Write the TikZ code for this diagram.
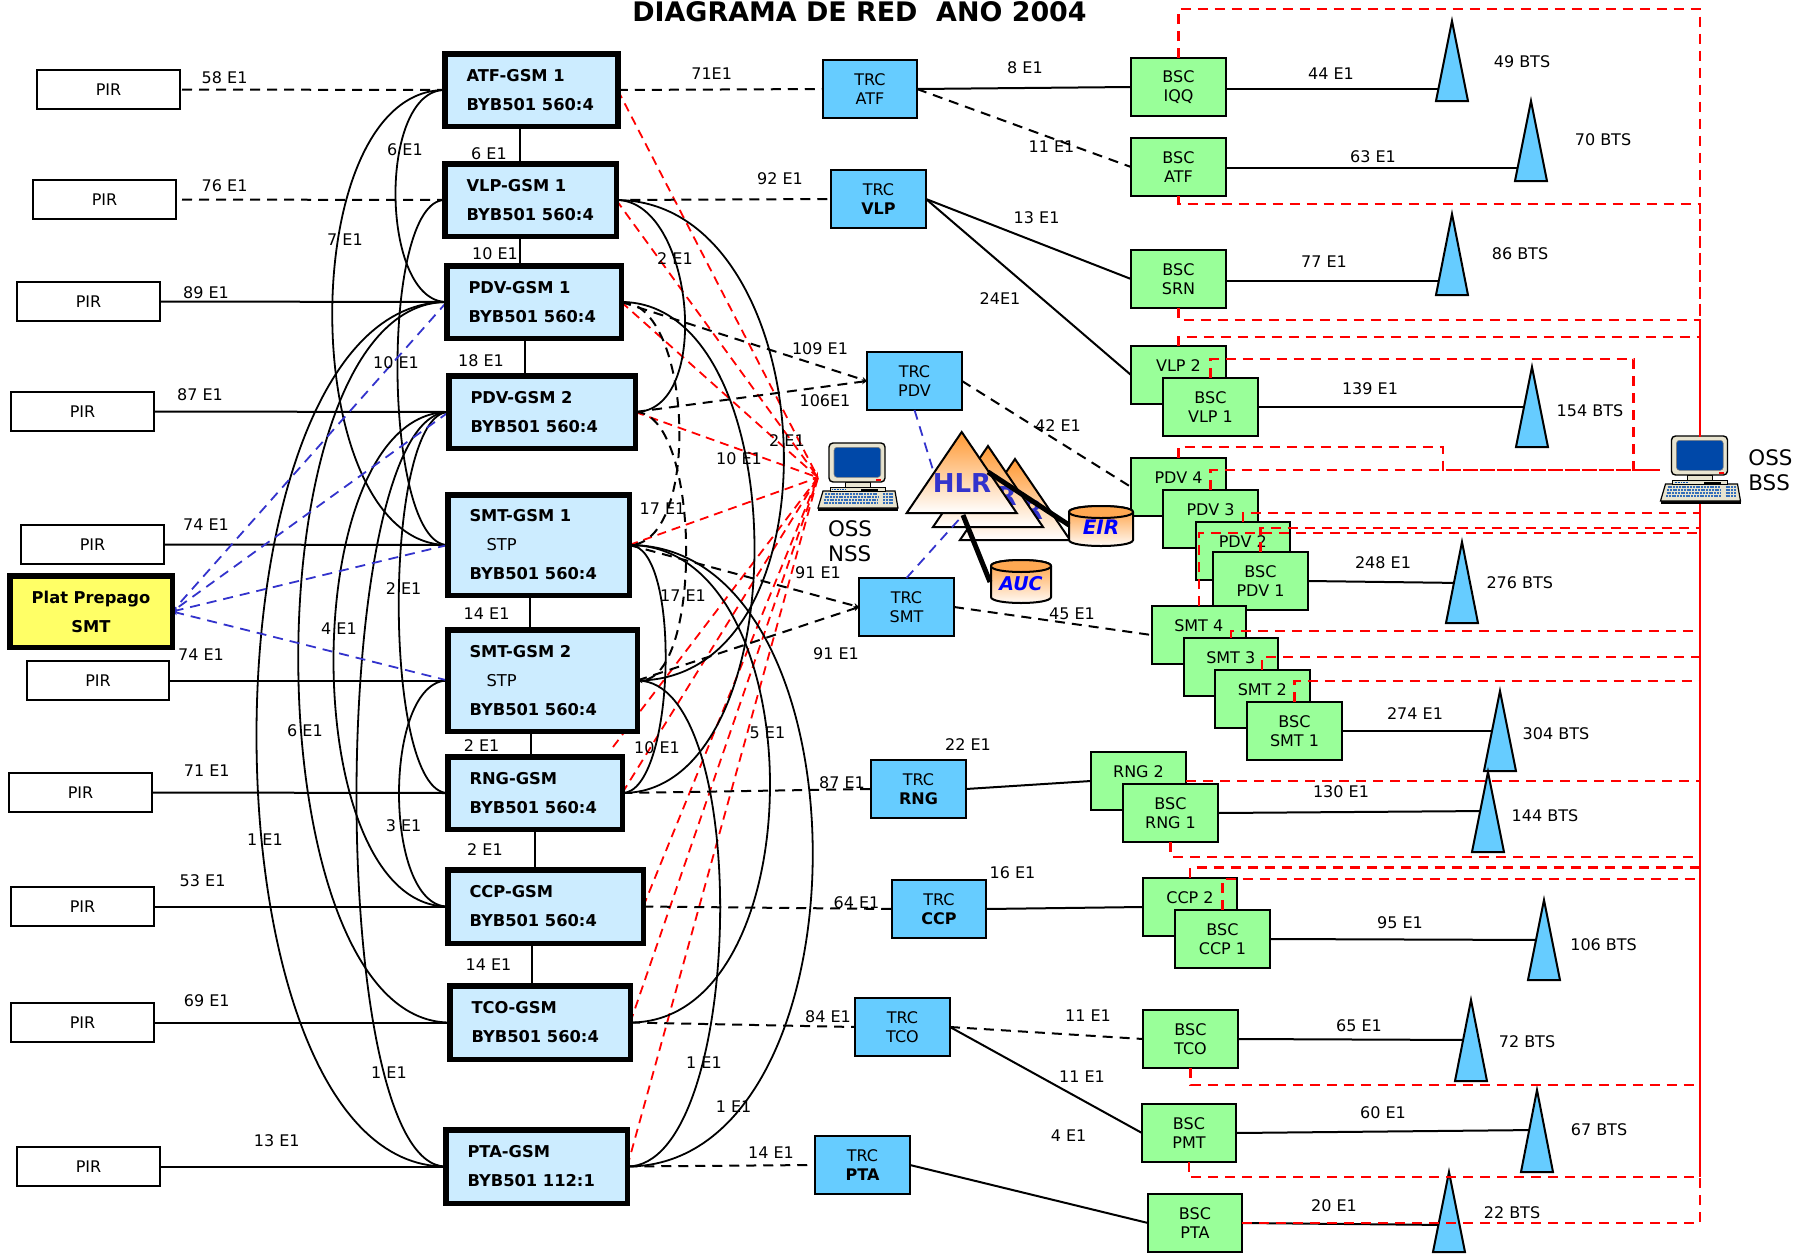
\documentclass[tikz,border=0pt]{standalone}
\usepackage{fontspec}
\setmainfont{DejaVu Sans}
\usetikzlibrary{calc,arrows.meta}
\pgfdeclarelayer{bgl}\pgfdeclarelayer{fgl}\pgfsetlayers{bgl,main,fgl}
\definecolor{gsmfill}{HTML}{CCECFF}
\definecolor{trcfill}{HTML}{66CCFF}
\definecolor{bscfill}{HTML}{99FF99}
\definecolor{platfill}{HTML}{FFFF66}
\definecolor{orangeT}{HTML}{FF9933}
\definecolor{blueD}{HTML}{3333CC}
\definecolor{redD}{HTML}{FF0000}
\definecolor{beige}{HTML}{E8E4D0}
\definecolor{screenb}{HTML}{0048A8}
\newcounter{lblc}
\tikzset{
  basetxt/.style={font=\fontsize{8}{9.8}\selectfont},
  lbl/.style={basetxt,inner sep=0pt,outer sep=0pt},
  pirbox/.style={basetxt,draw=black,line width=1pt,fill=white,inner sep=0pt,outer sep=0pt,align=center},
  trcbox/.style={pirbox,fill=trcfill},
  bscbox/.style={pirbox,fill=bscfill},
  gsmbox/.style={draw=black,line width=2.75pt,fill=gsmfill,inner sep=0pt,outer sep=0pt,align=flush left,font=\bfseries\fontsize{8.15}{14.5}\selectfont},
  platbox/.style={gsmbox,fill=platfill,align=center},
  ln/.style={black,line width=1pt},
  cv/.style={black,line width=.9pt},
  dsh/.style={black,line width=1pt,dash pattern=on 5pt off 3.5pt},
  blued/.style={blueD,line width=.9pt,dash pattern=on 5pt off 3.5pt},
  redn/.style={redD,line width=.9pt,dash pattern=on 4.5pt off 3pt},
  redb/.style={redD,line width=1.1pt,dash pattern=on 5pt off 3.5pt},
  btsfill/.style={draw=black,line width=1pt,fill=trcfill,line join=miter},
  tipS/.style={-{Stealth[length=2.6pt,width=2.6pt]}},
  hlrtxt/.style={font=\bfseries\fontsize{13}{15}\selectfont,text=blueD,inner sep=0pt},
}
\newcommand\bx[7]{\node[#2,minimum width={(#5-#3-2)*0.5pt},minimum height={(#6-#4-2)*0.5pt}] (#1) at ({(#3+#5)/2},{(#4+#6)/2}) {#7};}
\newcommand\gx[6]{\node[gsmbox,minimum width={(#4-#2-5.5)*0.5pt},minimum height={(#5-#3-5.5)*0.5pt},text width={(#4-#2-49)*0.5pt}] (#1) at ({(#2+#4)/2},{(#3+#5)/2}) {#6};}
\newcommand\lb[3]{\stepcounter{lblc}\node[lbl] (lab\arabic{lblc}) at (#1,#2) {#3};}
\newcommand\arcW[3]{\draw[cv] (#1.west) .. controls ($(#1.west)+(-#3,0)$) and ($(#2.west)+(-#3,0)$) .. (#2.west);}
\newcommand\arcE[3]{\draw[cv] (#1.east) .. controls ($(#1.east)+(#3,0)$) and ($(#2.east)+(#3,0)$) .. (#2.east);}
\newcommand\bts[3]{\coordinate (#1) at (#2,#3);}
\newcommand\btsd[3]{\draw[btsfill] (#1,#2) -- (#1+16,#3) -- (#1-16,#3) -- cycle;}
\newcommand\hlrtri[3]{\path[draw=black,line width=1pt,top color=orangeT,middle color=orangeT!22!white,bottom color=white] (#1,#2) -- (#1+55,#3) -- (#1-55,#3) -- cycle;}
\newcommand\cyl[4]{%
  \path[draw=black,line width=1pt,top color=orangeT,middle color=orangeT!25!white,bottom color=white]
    (#1,#2+6) -- (#1,#4-6) .. controls (#1,#4+2) and (#3,#4+2) .. (#3,#4-6) -- (#3,#2+6) .. controls (#3,#2-2) and (#1,#2-2) .. (#1,#2+6) -- cycle;
  \draw[line width=1pt,fill=orangeT!85!white] (#1,#2+6) .. controls (#1,#2-2) and (#3,#2-2) .. (#3,#2+6) .. controls (#3,#2+14) and (#1,#2+14) .. (#1,#2+6) -- cycle;}
\newcommand\compu[2]{%
  \begin{scope}[shift={(#1,#2)}]
    \fill[black] (0,64) -- (80,64) -- (80,68) -- (0,68) -- cycle;
    \draw[line width=.6pt,fill=beige] (5,48) -- (77,48) -- (80,65) -- (0,65) -- cycle;
    \draw[line width=.5pt,fill=beige] (27,39) rectangle (52,44);
    \draw[line width=.5pt,fill=beige] (12,44) rectangle (67,48);
    \draw[line width=.7pt,fill=beige,rounded corners=2pt] (11,0) rectangle (67,39);
    \draw[draw=gray,line width=.3pt,fill=screenb,rounded corners=1.5pt] (16,4.3) rectangle (62.7,34.3);
    \fill[red] (58,36) rectangle (63,38);
    \fill[black] (43,45.5) rectangle (60,48);
    \draw[screenb,line width=.8pt,dash pattern=on .5pt off .3pt] (14,46.5) -- (28,46.5);
    \foreach \yy/\xa in {51/7,54/6.5,57/6,60/5.5}{
      \draw[screenb!80!white,line width=1pt,dash pattern=on 1pt off .4pt] (\xa,\yy) -- (60,\yy);
      \draw[screenb!80!white,line width=1pt,dash pattern=on 1pt off .4pt] (65,\yy) -- (75,\yy);}
  \end{scope}}
\begin{document}
\begin{tikzpicture}[x=0.5pt,y=-0.5pt]
\useasboundingbox (0,0) rectangle (1796,1254);
% PIR boxes
\bx{pa}{pirbox}{36}{69}{181}{110}{PIR}
\bx{pb}{pirbox}{32}{179}{177}{220}{PIR}
\bx{pc}{pirbox}{16}{281}{161}{322}{PIR}
\bx{pd}{pirbox}{10}{391}{155}{432}{PIR}
\bx{pe}{pirbox}{20}{524}{165}{565}{PIR}
\bx{pf}{pirbox}{26}{660}{170}{701}{PIR}
\bx{pg}{pirbox}{8}{772}{153}{813}{PIR}
\bx{ph}{pirbox}{10}{886}{155}{927}{PIR}
\bx{pi}{pirbox}{10}{1002}{155}{1043}{PIR}
\bx{pj}{pirbox}{16}{1146}{161}{1187}{PIR}
\node[platbox,minimum width={(168-5.5)*0.5pt},minimum height={(77-5.5)*0.5pt}] (plat) at (91,611.5) {Plat Prepago\\SMT};
% GSM boxes
\gx{atf}{442}{51}{620.5}{129}{\mbox{ATF-GSM 1}\\\mbox{BYB501 560:4}}
\gx{vlp}{442}{161}{619}{239}{\mbox{VLP-GSM 1}\\\mbox{BYB501 560:4}}
\gx{pdva}{444}{263}{624}{341}{\mbox{PDV-GSM 1}\\\mbox{BYB501 560:4}}
\gx{pdvb}{446}{373}{638}{451}{\mbox{PDV-GSM 2}\\\mbox{BYB501 560:4}}
\gx{smta}{445}{492}{632}{598}{\mbox{SMT-GSM 1}\\\hspace*{8.5pt}{\mdseries STP}\\\mbox{BYB501 560:4}}
\gx{smtb}{445}{627}{640}{734}{\mbox{SMT-GSM 2}\\\hspace*{8.5pt}{\mdseries STP}\\\mbox{BYB501 560:4}}
\gx{rng}{445}{754}{625}{832}{\mbox{RNG-GSM}\\\mbox{BYB501 560:4}}
\gx{ccp}{445}{867}{646}{946}{\mbox{CCP-GSM}\\\mbox{BYB501 560:4}}
\gx{tco}{447}{983}{633}{1062}{\mbox{TCO-GSM}\\\mbox{BYB501 560:4}}
\gx{pta}{443}{1127}{630}{1206}{\mbox{PTA-GSM}\\\mbox{BYB501 112:1}}
% TRC
\bx{tatf}{trcbox}{822}{59}{918}{119}{TRC\\ATF}
\bx{tvlp}{trcbox}{830}{169}{927}{229}{TRC\\\textbf{VLP}}
\bx{tpdv}{trcbox}{866}{351}{963}{411}{TRC\\PDV}
\bx{tsmt}{trcbox}{858}{577}{955}{637}{TRC\\SMT}
\bx{trng}{trcbox}{870}{759}{967}{819}{TRC\\\textbf{RNG}}
\bx{tccp}{trcbox}{891}{879}{987}{939}{TRC\\\textbf{CCP}}
\bx{ttco}{trcbox}{854}{997}{951}{1057}{TRC\\TCO}
\bx{tpta}{trcbox}{814}{1135}{911}{1195}{TRC\\\textbf{PTA}}
% BSC
\bx{iqq}{bscbox}{1130}{57}{1227}{117}{BSC\\IQQ}
\bx{batf}{bscbox}{1130}{137}{1227}{197}{BSC\\ATF}
\bx{srn}{bscbox}{1130}{249}{1227}{309}{BSC\\SRN}
\bx{vlpb}{bscbox}{1130}{345}{1227}{405}{VLP 2\\\mbox{}}
\bx{vlpa}{bscbox}{1162}{377}{1259}{437}{BSC\\VLP 1}
\bx{pdvd}{bscbox}{1130}{457}{1227}{517}{PDV 4\\\mbox{}}
\bx{pdvc}{bscbox}{1162}{489}{1259}{549}{PDV 3\\\mbox{}}
\bx{pdvy}{bscbox}{1194.5}{521}{1291}{581}{PDV 2\\\mbox{}}
\bx{pdvx}{bscbox}{1212}{551}{1309}{611}{BSC\\PDV 1}
\bx{smtd}{bscbox}{1150.5}{605}{1247}{665}{SMT 4\\\mbox{}}
\bx{smtc}{bscbox}{1182.5}{637}{1279}{697}{SMT 3\\\mbox{}}
\bx{smty}{bscbox}{1214}{669}{1310.5}{729}{SMT 2\\\mbox{}}
\bx{smtx}{bscbox}{1246}{701}{1343}{761}{BSC\\SMT 1}
\bx{rngb}{bscbox}{1090}{751}{1187}{811}{RNG 2\\\mbox{}}
\bx{rnga}{bscbox}{1122}{783}{1219}{843}{BSC\\RNG 1}
\bx{ccpb}{bscbox}{1142}{877}{1238}{937}{CCP 2\\\mbox{}}
\bx{ccpa}{bscbox}{1174}{909}{1271}{969}{BSC\\CCP 1}
\bx{btco}{bscbox}{1142}{1009}{1239}{1069}{BSC\\TCO}
\bx{pmt}{bscbox}{1141}{1103}{1237}{1163}{BSC\\PMT}
\bx{bpta}{bscbox}{1147}{1193}{1243}{1253}{BSC\\PTA}
% BTS attach points
\bts{b49}{1452}{89}\bts{b70}{1531}{168}\bts{b86}{1452}{281}\bts{b154}{1532}{407}
\bts{b276}{1462}{583}\bts{b304}{1500}{731}\bts{b144}{1488}{811}\bts{b106}{1544}{940}
\bts{b72}{1471}{1040}\bts{b67}{1537}{1130}\bts{b22}{1449}{1225}
% computers (anchor nodes)
\node[inner sep=0pt,outer sep=0pt,minimum width=40pt,minimum height=34.5pt] (ossn) at (858,477.5) {};
\node[inner sep=0pt,outer sep=0pt,minimum width=40pt,minimum height=34pt] (ossb) at (1700,470) {};
\coordinate (bus) at (1700,0);
\coordinate (rsb) at (613,747);
\coordinate (lra) at (1633.5,359);
\coordinate (lrb) at (1633.5,470);
\coordinate (lrc) at (1443,447);
\coordinate (lrd) at (1443,470);
% ---------------- background connectors
\begin{pgfonlayer}{bgl}
\draw[dsh,shorten <=1pt] (pa.east) -- (atf.west);
\draw[dsh,shorten <=3pt] (pb.east) -- (vlp.west);
\foreach \a/\b in {pc/pdva,pd/pdvb,pe/smta,pf/smtb,pg/rng,ph/ccp,pi/tco,pj/pta}{\draw[ln] (\a.east) -- (\b.west);}
\draw[ln] (520,0 |- atf.south) -- (520,0 |- vlp.north);
\draw[ln] (520,0 |- vlp.south) -- (520,0 |- pdva.north);
\draw[ln] (524.5,0 |- pdva.south) -- (524.5,0 |- pdvb.north);
\draw[ln] (530,0 |- smta.south) -- (530,0 |- smtb.north);
\draw[ln] (531,0 |- smtb.south) -- (531,0 |- rng.north);
\draw[ln] (534.5,0 |- rng.south) -- (534.5,0 |- ccp.north);
\draw[ln] (532,0 |- ccp.south) -- (532,0 |- tco.north);
% red to OSS NSS
\foreach \a in {vlp.east,pdva.east,pdvb.east,rsb,rng.east,ccp.east,tco.east,pta.east}{
  \draw[redn] (\a) -- (ossn.west);}
\draw[redn,tipS] (atf.east) -- (ossn.west);
\draw[redn,tipS] (smta.east) -- (ossn.west);
% west arcs
\arcW{atf}{pdva}{67}
\arcW{atf}{smta}{152}
\arcW{vlp}{smta}{65}
\arcW{pdva}{pta}{253}
\arcW{pdva}{tco}{200}
\arcW{pdvb}{ccp}{153}
\arcW{pdvb}{pta}{121}
\arcW{pdvb}{rng}{66}
\arcW{smtb}{ccp}{65}
% east arcs
\arcE{vlp}{smtb}{209}
\arcE{vlp}{pdvb}{78}
\arcE{pdva}{rng}{177}
\arcE{smta}{rng}{53}
\arcE{smta}{pta}{246}
\arcE{smta}{tco}{187}
\arcE{smtb}{pta}{117}
% dashed arcs
\draw[dsh] (pdva.east) .. controls ($(pdva.east)+(72,0)$) and ($(smta.east)+(72,0)$) .. (smta.east);
\draw[dsh,tipS] (pdvb.east) .. controls ($(pdvb.east)+(66,0)$) and ($(smtb.east)+(66,0)$) .. (smtb.east);
% blue
\foreach \a in {pdva.west,pdvb.west,smta.west,smtb.west}{\draw[blued,tipS] (\a) -- (plat.east);}
% dashed GSM-TRC
\draw[dsh] (atf.east) -- (tatf.west);
\draw[dsh,shorten <=7pt] (vlp.east) -- (tvlp.west);
\draw[dsh,tipS] (pdva.east) -- (tpdv.west);
\draw[dsh,tipS] (pdvb.east) -- (tpdv.west);
\draw[dsh,tipS] (smta.east) -- (tsmt.west);
\draw[dsh,tipS] (smtb.east) -- (tsmt.west);
\draw[dsh] (rng.east) -- (trng.west);
\draw[dsh] (ccp.east) -- (tccp.west);
\draw[dsh] (tco.east) -- (ttco.west);
\draw[dsh] (pta.east) -- (tpta.west);
% TRC-BSC
\draw[ln] (tatf.east) -- (iqq.west);
\draw[dsh] (tatf.east) -- (batf.west);
\draw[ln] (tvlp.east) -- (srn.west);
\draw[ln] (tvlp.east) -- (vlpb.west);
\draw[dsh] (tpdv.east) -- (pdvd.west);
\draw[dsh] (tsmt.east) -- (smtd.west);
\draw[ln] (trng.east) -- (rngb.west);
\draw[ln] (tccp.east) -- (ccpb.west);
\draw[dsh] (ttco.east) -- (btco.west);
\draw[ln] (ttco.east) -- (pmt.west);
\draw[ln] (tpta.east) -- (bpta.west);
% BSC-BTS
\draw[ln] (iqq.east |- b49) -- (b49);
\draw[ln] (batf.east |- b70) -- (b70);
\draw[ln] (srn.east |- b86) -- (b86);
\draw[ln] (vlpa.east) -- (b154);
\draw[ln] (pdvx.east) -- (b276);
\draw[ln] (smtx.east) -- (b304);
\draw[ln] (rnga.east) -- (b144);
\draw[ln] (ccpa.east) -- (b106);
\draw[ln] (btco.east) -- (b72);
\draw[ln] (pmt.east) -- (b67);
\draw[ln] (bpta.east) -- (b22);
\end{pgfonlayer}
% BTS triangles
\btsd{1452}{21}{101}\btsd{1531}{101}{181}\btsd{1452}{214}{295}\btsd{1532}{367}{447}
\btsd{1462}{542}{623}\btsd{1500}{691}{771}\btsd{1488}{772}{852}\btsd{1544}{900}{980}
\btsd{1471}{1000}{1081}\btsd{1537}{1090}{1172}\btsd{1449}{1172}{1252}
% HLR cluster
\hlrtri{1015}{459}{540}
\node[hlrtxt] (hlrc) at (1033,510) {R};
\hlrtri{988}{446}{527}
\node[hlrtxt] (hlrb) at (1006.7,496.3) {R};
\hlrtri{961.7}{432}{513}
\node[hlrtxt] (hlra) at (962,483) {HLR};
\coordinate (hlrE) at (988,472);
\coordinate (hlrA) at (963,515);
\coordinate (hlrP) at (933,470);
\draw[blued] (tpdv.south) -- (hlrP);
\draw[blued] (tsmt.north) -- (hlrA);
\cyl{1069}{506}{1133}{546}
\node[font=\bfseries\itshape\fontsize{10}{12}\selectfont,text=blue,inner sep=0pt] (eir) at (1101,527) {EIR};
\cyl{991}{560}{1051}{603}
\node[font=\bfseries\itshape\fontsize{9.5}{12}\selectfont,text=blue,inner sep=0pt] (auc) at (1021,584) {AUC};
\coordinate (cylE) at (1069,525);
\coordinate (cylA) at (990,582);
\draw[black,line width=2.5pt] (hlrE) -- (cylE);
\draw[black,line width=2.5pt] (hlrA) -- (cylA);
% computers
\compu{818}{443}
\compu{1660.5}{436}
% top layer: OSS BSS red network
\begin{pgfonlayer}{fgl}
\draw[redb] (iqq.north) |- (bus |- 0,9) -- (ossb.north);
\draw[redb] (batf.south) |- (bus |- 0,204) -- (ossb.north);
\draw[redb] (srn.south) |- (bus |- 0,320) -- (ossb.north);
\draw[redb] (vlpb.north) |- (bus |- 0,337) -- (ossb.north);
\draw[redb] (vlpa.north) |- (lra) -- (lrb) -- (ossb.west);
\draw[redb] (pdvd.north) |- (lrc) -- (lrd) -- (ossb.west);
\draw[redb] (pdvc.north) |- (ossb.west);
\foreach \a/\y in {pdvy.north/513,pdvx.north/528,smtd.north/533,smtc.north/631,smty.north/657,smtx.north/681,rnga.south/856.7,ccpb.north/867.5,ccpa.north/879,btco.south/1085,pmt.south/1177}{
  \draw[redb] (\a) |- (bus |- 0,\y);}
\draw[redb] (rngb.east |- 0,781) -- (bus |- 0,781);
\draw[redb] (bpta.east |- 0,1223) -- (bus |- 0,1223) -- (bus |- 0,1177);
\draw[redD,line width=1.3pt] (ossb.south) -- (bus |- 0,1177);
\end{pgfonlayer}
% title
\node[font=\bfseries\fontsize{13.45}{15}\selectfont,inner sep=0pt] (title) at (859.5,12) {DIAGRAMA DE RED\ \ ANO 2004};
% OSS text
\node[font=\fontsize{10.7}{12.5}\selectfont,inner sep=0pt,align=left] (nsst) at (850,541.5) {OSS\\NSS};
\node[font=\fontsize{10.7}{12.5}\selectfont,inner sep=0pt,align=left,anchor=west] (bsst) at (1748,470.5) {OSS\\BSS};
% labels
\lb{224.6}{77.5}{58 E1}\lb{224.6}{186}{76 E1}\lb{206}{293}{89 E1}\lb{200}{395}{87 E1}\lb{206}{525}{74 E1}
\lb{405}{150}{6 E1}\lb{489}{153.5}{6 E1}\lb{345}{239.6}{7 E1}\lb{495}{253.5}{10 E1}\lb{675}{259}{2 E1}
\lb{396}{363}{10 E1}\lb{481}{361}{18 E1}\lb{662.5}{509}{17 E1}\lb{403.6}{589}{2 E1}\lb{486.6}{613.5}{14 E1}
\lb{683}{596}{17 E1}\lb{339}{629}{4 E1}\lb{201}{655}{74 E1}\lb{481.6}{746}{2 E1}\lb{305}{731}{6 E1}
\lb{657}{748}{10 E1}\lb{767.5}{733}{5 E1}\lb{206.7}{771}{71 E1}\lb{842}{783}{87 E1}\lb{836}{653.6}{91 E1}
\lb{403.6}{825.4}{3 E1}\lb{265}{839.6}{1 E1}\lb{485}{850}{2 E1}\lb{202.6}{881}{53 E1}\lb{856.5}{903}{64 E1}
\lb{488.5}{965}{14 E1}\lb{206.7}{1001}{69 E1}\lb{828}{1017}{84 E1}\lb{704}{1063}{1 E1}\lb{389}{1073}{1 E1}
\lb{733.6}{1107}{1 E1}\lb{276.7}{1141}{13 E1}\lb{771}{1153}{14 E1}
\lb{711.7}{73.3}{71E1}\lb{780}{179}{92 E1}\lb{820}{349}{109 E1}\lb{825}{401}{106E1}\lb{787}{441}{2 E1}
\lb{739}{459}{10 E1}\lb{818}{573}{91 E1}\lb{1058}{426}{42 E1}\lb{1072}{614}{45 E1}
\lb{1025}{68}{8 E1}\lb{1051.5}{146.6}{11 E1}\lb{1036.6}{217.6}{13 E1}\lb{1000}{299}{24E1}\lb{968}{744.5}{22 E1}
\lb{1012.5}{873}{16 E1}\lb{1088}{1016}{11 E1}\lb{1082}{1077}{11 E1}\lb{1068.6}{1136}{4 E1}
\lb{1331}{74}{44 E1}\lb{1522}{62}{49 BTS}\lb{1373}{156.3}{63 E1}\lb{1603}{140}{70 BTS}\lb{1324}{262}{77 E1}\lb{1520}{254}{86 BTS}
\lb{1370}{389}{139 E1}\lb{1590}{411}{154 BTS}\lb{1383}{563}{248 E1}\lb{1519.8}{582.7}{276 BTS}\lb{1415}{714}{274 E1}\lb{1556}{734}{304 BTS}
\lb{1341}{792}{130 E1}\lb{1545}{816}{144 BTS}\lb{1400}{923}{95 E1}\lb{1603.6}{945}{106 BTS}\lb{1359}{1026}{65 E1}\lb{1527}{1042}{72 BTS}
\lb{1383}{1113}{60 E1}\lb{1599}{1130}{67 BTS}\lb{1334}{1206}{20 E1}\lb{1512}{1213}{22 BTS}
\end{tikzpicture}
\end{document}
